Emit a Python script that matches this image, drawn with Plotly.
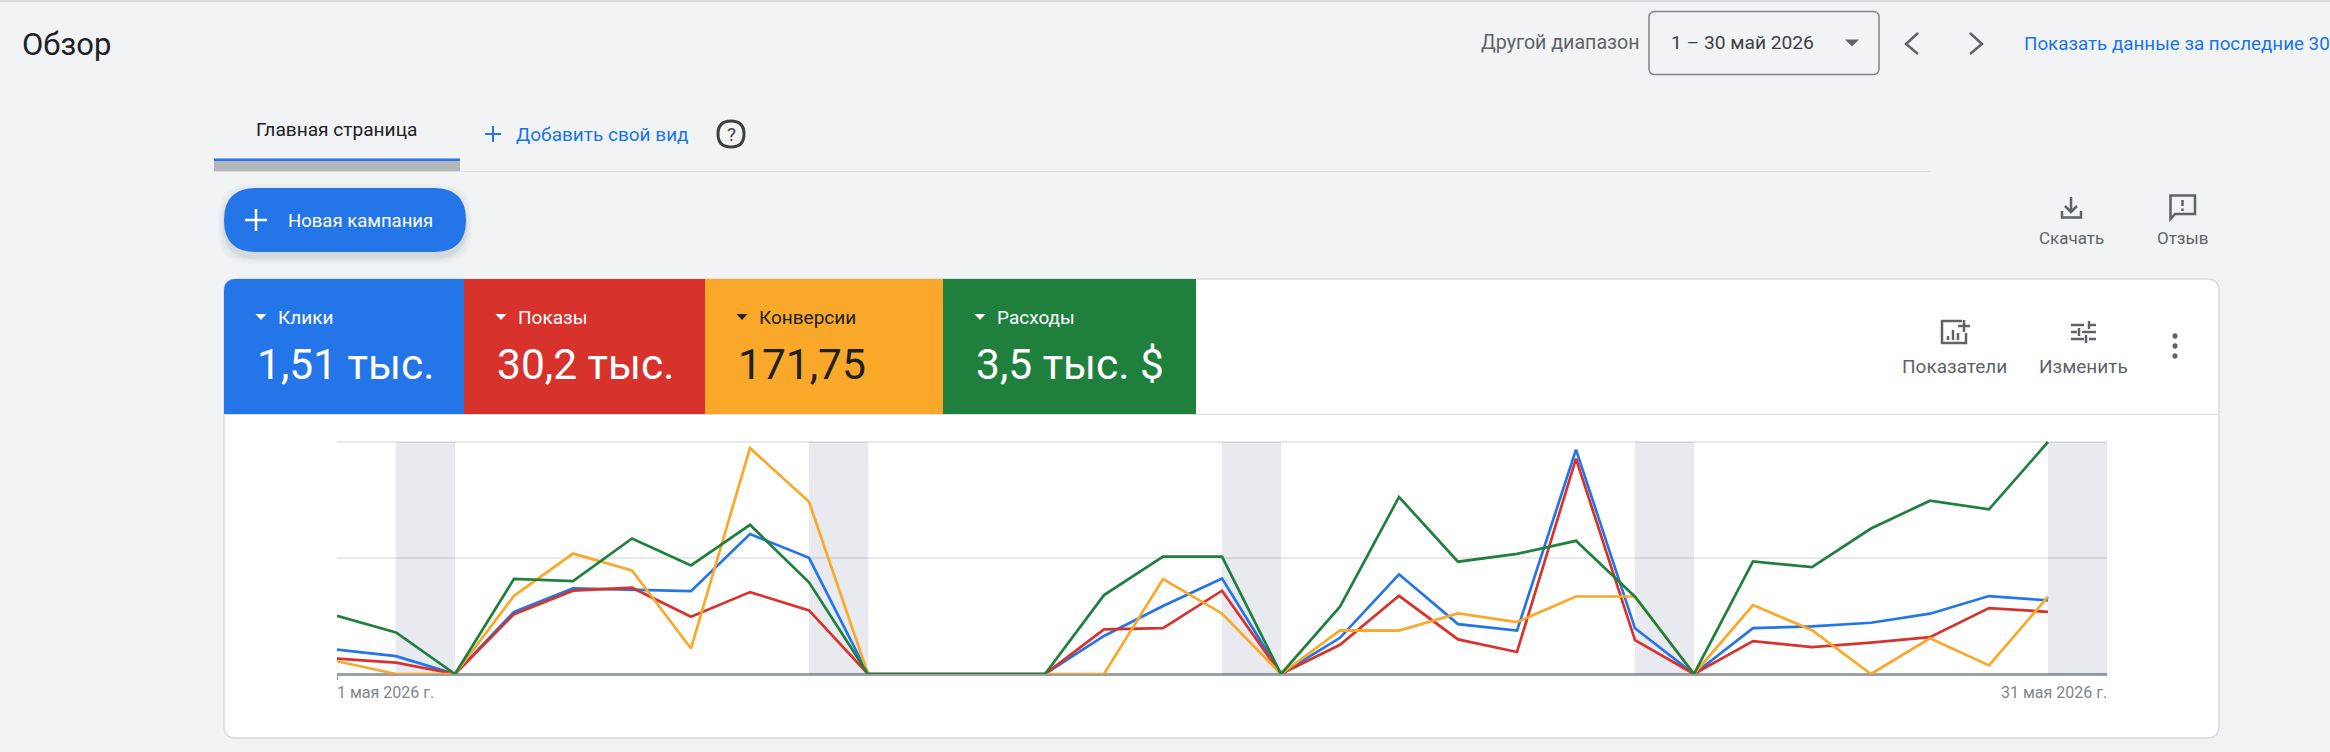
import plotly.graph_objects as go

W, H = 2330, 752

days = list(range(1, 31))
weekend_days = [2, 9, 16, 23, 30]

# values are in percent of the chart height (the real axes are hidden in the reference)
kliki = [10.5, 7.7, 0, 26.8, 36.9, 36.2, 35.7, 60.3, 50.1, 0, 0, 0, 0, 16.4, 29.3,
         41.2, 0, 15.6, 43.0, 21.5, 18.7, 96.7, 19.7, 0, 19.8, 20.5, 22.1, 26.0, 33.6, 31.7]
pokazy = [6.6, 4.9, 0, 25.8, 35.9, 37.2, 24.7, 35.3, 27.4, 0, 0, 0, 0, 19.2, 19.8,
          35.9, 0, 12.6, 33.7, 14.9, 9.5, 92.8, 14.6, 0, 14.2, 11.6, 13.5, 15.9, 28.4, 26.8]
konversii = [5.5, 0, 0, 33.7, 51.9, 44.6, 11.0, 97.4, 74.2, 0, 0, 0, 0, 0, 40.9,
             26.1, 0, 18.8, 18.7, 26.1, 22.4, 33.4, 33.4, 0, 29.7, 18.9, 0, 15.4, 3.7, 33.3]
rashody = [25.1, 17.9, 0, 41.0, 40.0, 58.4, 46.8, 64.3, 39.5, 0, 0, 0, 0, 34.0, 50.6,
           50.6, 0, 29.0, 76.3, 48.4, 51.8, 57.4, 33.3, 0, 48.5, 46.1, 62.7, 74.7, 71.0, 100]

metric_names = ["Клики", "Показы", "Конверсии", "Расходы"]
metric_totals = ["1,51 тыс.", "30,2 тыс.", "171,75", "3,5 тыс. $"]

BLUE, RED, ORANGE, GREEN = "#2475e8", "#d8322d", "#f9a82a", "#1f803e"
GREY, DARK = "#5f6368", "#202124"
FONT = "Roboto"


def X(v):
    return v / W


def Y(v):
    return 1 - v / H


def p(*cmds):
    # cmds: ("M", x, y), ("L", x, y), ("Q", cx, cy, x, y), ("Z",)
    out = []
    for c in cmds:
        vals = []
        for i, v in enumerate(c[1:]):
            vals.append(f"{X(v) if i % 2 == 0 else Y(v):.6f}")
        out.append(c[0] + " " + " ".join(vals))
    return " ".join(out)


def rounded(x0, y0, x1, y1, tl=0, tr=None, br=None, bl=None):
    tr = tl if tr is None else tr
    br = tl if br is None else br
    bl = tl if bl is None else bl
    return p(("M", x0 + tl, y0), ("L", x1 - tr, y0), ("Q", x1, y0, x1, y0 + tr),
             ("L", x1, y1 - br), ("Q", x1, y1, x1 - br, y1), ("L", x0 + bl, y1),
             ("Q", x0, y1, x0, y1 - bl), ("L", x0, y0 + tl), ("Q", x0, y0, x0 + tl, y0), ("Z",))


shapes = []


def add_path(path, fill=None, color=None, width=0, layer="below"):
    shapes.append(dict(type="path", xref="paper", yref="paper", path=path, layer=layer,
                       fillcolor=fill if fill else "rgba(0,0,0,0)",
                       line=dict(color=color if color else "rgba(0,0,0,0)", width=width)))


def segs(color, width, *lines):
    # each line is a list of points
    cmds = []
    for pts in lines:
        cmds.append(("M", *pts[0]))
        for pt in pts[1:]:
            cmds.append(("L", *pt))
    add_path(p(*cmds), color=color, width=width)


notes = []


def text(s, x, y, size, color, anchor="left", weight=400):
    # annotations carry a small padding, take it back out
    shift = {"left": -2, "right": 2, "center": 0}[anchor]
    notes.append(dict(text=s, x=X(x + shift), y=Y(y), xref="paper", yref="paper", showarrow=False,
                      xanchor=anchor, yanchor="middle", align=anchor,
                      font=dict(family=FONT, size=size, color=color, weight=weight)))


def tri(cx, cy, w, h, color):
    add_path(p(("M", cx - w / 2, cy - h / 2), ("L", cx + w / 2, cy - h / 2), ("L", cx, cy + h / 2), ("Z",)), fill=color)


# page furniture
add_path(rounded(0, 0, W, 2), fill="#dadce0")
add_path(rounded(214, 161, 460, 171), fill="#b4b6b8")
add_path(rounded(214, 158.5, 460, 161), fill=BLUE)
add_path(rounded(214, 171, 1930, 172), fill="#dadce0")
text("Обзор", 22, 44, 31, DARK)
text("Главная страница", 256, 129, 19.1, DARK)
segs(BLUE, 2, [(493, 126), (493, 142)], [(485, 134), (501, 134)])
text("Добавить свой вид", 516, 134, 19, "#1a73e8")
add_path(p(("M", 718, 134), ("Q", 718, 121, 731, 121), ("Q", 744, 121, 744, 134),
           ("Q", 744, 147, 731, 147), ("Q", 718, 147, 718, 134), ("Z",)), color="#3c4043", width=3)
text("?", 731, 134, 19, "#3c4043", anchor="center")

# new campaign button with its soft shadow
for grow, alpha in [(12, 0.025), (8, 0.03), (4, 0.04), (2, 0.05)]:
    add_path(rounded(224 - grow / 2, 190 - grow / 2, 466 + grow / 2, 258 + grow / 2, 34), fill=f"rgba(60,64,67,{alpha})")
add_path(rounded(224, 188, 466, 252, 32), fill=BLUE)
segs("white", 2.5, [(256, 209), (256, 231)], [(245, 220), (267, 220)])
text("Новая кампания", 288, 221, 18.5, "white")

# header right side
text("Другой диапазон", 1481, 43, 19.6, GREY)
add_path(rounded(1649, 11.5, 1879, 74.5, 6), fill="#f1f3f5", color="#80868b", width=1.5)
text("1 – 30 май 2026", 1671, 43, 19.2, "#3c4043")
tri(1852, 43, 14, 7, GREY)
segs(GREY, 2.5, [(1918, 33), (1906, 44), (1918, 54)], [(1970, 33), (1982, 44), (1970, 54)])
text("Показать данные за последние 30", 2024, 44, 18.8, "#1a73e8")

# download / feedback
segs(GREY, 2.5, [(2071, 197), (2071, 212)], [(2065, 206), (2071, 212), (2077, 206)], [(2062, 211), (2062, 217.5), (2081, 217.5), (2081, 211)])
text("Скачать", 2071, 238, 17, GREY, anchor="center")
add_path(p(("M", 2170.5, 195.5), ("L", 2195, 195.5), ("L", 2195, 214), ("L", 2175, 214), ("L", 2170.5, 219), ("Z",)), color=GREY, width=2.5)
segs(GREY, 2.5, [(2182.5, 200), (2182.5, 206)], [(2182.5, 208.5), (2182.5, 211)])
text("Отзыв", 2182, 238, 17, GREY, anchor="center")

# card
add_path(rounded(224, 279, 2219, 738, 12), fill="white", color="#dadce0", width=1.5)
tile_edges = [224, 464, 705, 943, 1196]
tile_colors = [BLUE, RED, ORANGE, GREEN]
tile_text = ["white", "white", DARK, "white"]
for i, name in enumerate(metric_names):
    x0, x1 = tile_edges[i], tile_edges[i + 1]
    add_path(rounded(x0, 279, x1, 414, 12 if i == 0 else 0, 0, 0, 0), fill=tile_colors[i])
    tri(x0 + 37, 317, 11, 6, tile_text[i])
    text(name, x0 + 54, 317, 19, tile_text[i])
    text(metric_totals[i], x0 + 33, 364, 42.5, tile_text[i])
add_path(rounded(225, 414, 2218, 415), fill="#dadce0")

# metrics / edit buttons in the card
segs(GREY, 2.5, [(1962, 321), (1942, 321), (1942, 343), (1966, 343), (1966, 333)],
     [(1948, 336), (1948, 340)], [(1953, 330), (1953, 340)], [(1958, 333), (1958, 340)])
segs(GREY, 2.5, [(1964, 320), (1964, 332)], [(1958, 326), (1970, 326)])
text("Показатели", 1954, 366, 19, GREY, anchor="center")
segs(GREY, 2.5, [(2071, 325), (2084, 325)], [(2089, 325), (2096, 325)], [(2089, 321), (2089, 329)],
     [(2071, 332), (2077, 332)], [(2082, 332), (2096, 332)], [(2079, 328), (2079, 336)],
     [(2071, 339), (2084, 339)], [(2089, 339), (2096, 339)], [(2086, 335), (2086, 343)])
text("Изменить", 2083, 366, 19, GREY, anchor="center")
for dy in [336, 346, 356]:
    add_path(p(("M", 2172.5, dy), ("Q", 2172.5, dy - 2.7, 2175, dy - 2.7), ("Q", 2177.5, dy - 2.7, 2177.5, dy),
               ("Q", 2177.5, dy + 2.7, 2175, dy + 2.7), ("Q", 2172.5, dy + 2.7, 2172.5, dy), ("Z",)), fill=GREY)

# axis end labels
text("1 мая 2026 г.", 337, 692, 16, "#80868b")
text("31 мая 2026 г.", 2107, 692, 16, "#80868b", anchor="right")

fig = go.Figure()
for name, vals, col in [("Клики", kliki, BLUE), ("Показы", pokazy, RED),
                        ("Конверсии", konversii, ORANGE), ("Расходы", rashody, GREEN)]:
    fig.add_trace(go.Scatter(x=days, y=vals, name=name, mode="lines", cliponaxis=False,
                             line=dict(color=col, width=2.7), showlegend=False))

for d in weekend_days:
    shapes.append(dict(type="rect", xref="x", yref="y", x0=d, x1=d + 1, y0=0, y1=100, layer="between",
                       fillcolor="rgba(30,50,110,0.1)", line=dict(width=0)))

# range runs a little past 100 so the top gridline is still drawn
fig.update_layout(
    width=W, height=H, margin=dict(l=0, r=0, t=0, b=0),
    paper_bgcolor="#f1f3f5", plot_bgcolor="rgba(0,0,0,0)",
    font=dict(family=FONT),
    shapes=shapes, annotations=notes,
    xaxis=dict(domain=[X(337), X(2107)], range=[1, 31], showgrid=False, zeroline=False,
               showticklabels=False, tickvals=[1], ticks="outside", ticklen=5, tickcolor="#9aa0a6",
               showline=False),
    yaxis=dict(domain=[Y(674), Y(440)], range=[0, 100.86], tickvals=[50, 100], showticklabels=False,
               gridcolor="#e8e8e8", gridwidth=1.5, zeroline=True, zerolinecolor="#9aa0a6", zerolinewidth=2.5),
)

fig.write_html("out.html", config=dict(displayModeBar=False),
               post_script="document.body.style.margin='0';document.body.style.overflow='hidden';")
